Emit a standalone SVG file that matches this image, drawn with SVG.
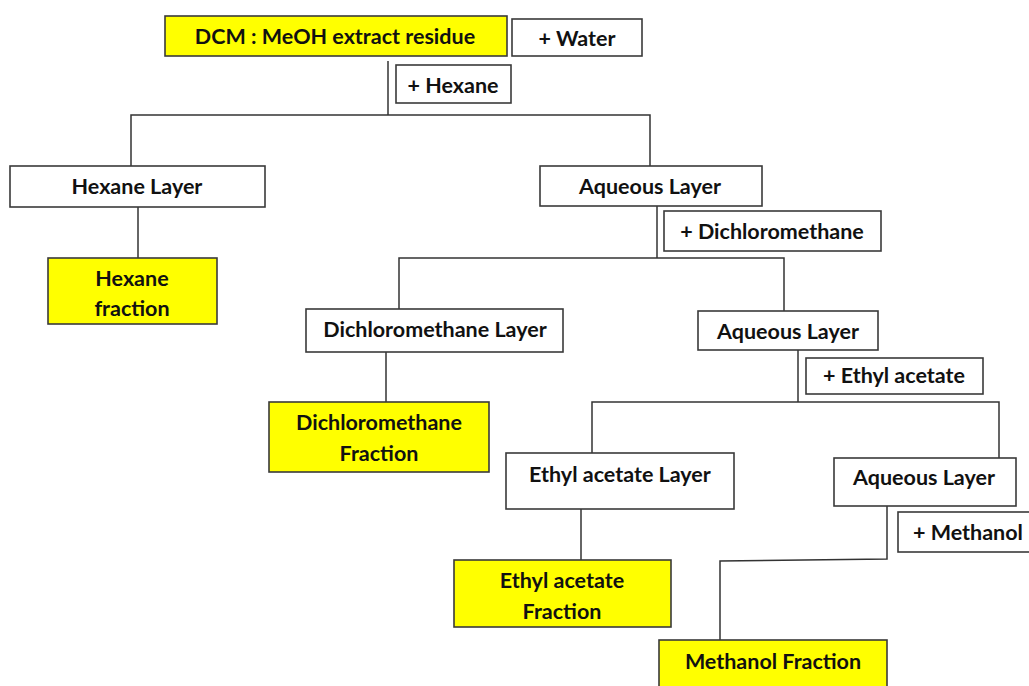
<svg xmlns="http://www.w3.org/2000/svg" width="1029" height="686" viewBox="0 0 1029 686">
<style>
.box{fill:#fff;stroke:#3a3a3a;stroke-width:1.6}
.hl{fill:#ffff00;stroke:#3a3a3a;stroke-width:1.6}
.t{font-family:"Lato","Liberation Sans",sans-serif;font-weight:bold;font-size:21.5px;fill:#111;text-anchor:middle}
.c{fill:none;stroke:#333;stroke-width:1.5}
</style>
<rect width="1029" height="686" fill="#fff"/>
<g id="connectors">
<polyline class="c" points="388,61 388,115"/>
<polyline class="c" points="131,166 131,115 650,115 650,166"/>
<polyline class="c" points="138,207 138,258"/>
<polyline class="c" points="657,206 657,258"/>
<polyline class="c" points="399,309 399,258 784,258 784,311"/>
<polyline class="c" points="386,352 386,402"/>
<polyline class="c" points="798,350 798,402"/>
<polyline class="c" points="592,455 592,402 999,402 999,458"/>
<polyline class="c" points="581,509 581,560"/>
<polyline class="c" points="887,506 887,559 720,561 720,640"/>
</g>
<g id="dcm-meoh"><rect class="hl" x="165" y="16" width="342" height="40"/><text class="t" x="335" y="44">DCM : MeOH extract residue</text></g>
<g id="water"><rect class="box" x="512" y="19" width="130" height="37"/><text class="t" x="577" y="46">+ Water</text></g>
<g id="hexane-add"><rect class="box" x="396" y="65" width="115" height="38"/><text class="t" x="453" y="93">+ Hexane</text></g>
<g id="hexane-layer"><rect class="box" x="10" y="166" width="255" height="41"/><text class="t" x="137" y="194">Hexane Layer</text></g>
<g id="hexane-fraction"><rect class="hl" x="48" y="258" width="169" height="66"/><text class="t" x="132" y="286">Hexane</text><text class="t" x="132" y="316">fraction</text></g>
<g id="aqueous-1"><rect class="box" x="540" y="166" width="222" height="40"/><text class="t" x="650" y="194">Aqueous Layer</text></g>
<g id="dcm-add"><rect class="box" x="664" y="211" width="217" height="40"/><text class="t" x="772" y="239">+ Dichloromethane</text></g>
<g id="dcm-layer"><rect class="box" x="306" y="309" width="257" height="43"/><text class="t" x="435" y="337">Dichloromethane Layer</text></g>
<g id="aqueous-2"><rect class="box" x="698" y="311" width="180" height="39"/><text class="t" x="788" y="339">Aqueous Layer</text></g>
<g id="dcm-fraction"><rect class="hl" x="269" y="402" width="220" height="70"/><text class="t" x="379" y="430">Dichloromethane</text><text class="t" x="379" y="461">Fraction</text></g>
<g id="ea-add"><rect class="box" x="806" y="358" width="177" height="36"/><text class="t" x="894" y="383">+ Ethyl acetate</text></g>
<g id="ea-layer"><rect class="box" x="506" y="453" width="228" height="56"/><text class="t" x="620" y="482">Ethyl acetate Layer</text></g>
<g id="aqueous-3"><rect class="box" x="834" y="458" width="182" height="48"/><text class="t" x="924" y="485">Aqueous Layer</text></g>
<g id="methanol-add"><rect class="box" x="898" y="512" width="140" height="40"/><text class="t" x="968" y="540">+ Methanol</text></g>
<g id="ea-fraction"><rect class="hl" x="454" y="560" width="217" height="67"/><text class="t" x="562" y="588">Ethyl acetate</text><text class="t" x="562" y="619">Fraction</text></g>
<g id="methanol-fraction"><rect class="hl" x="659" y="640" width="228" height="60"/><text class="t" x="773" y="669">Methanol Fraction</text></g>
</svg>
